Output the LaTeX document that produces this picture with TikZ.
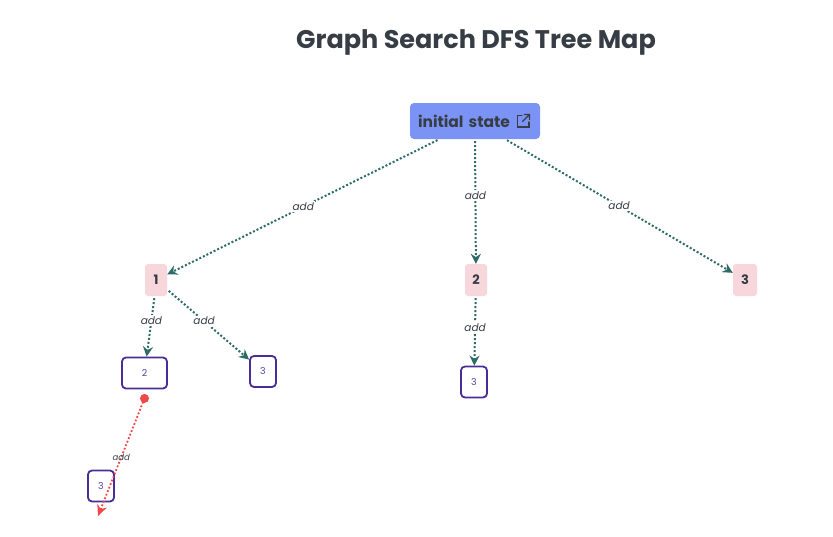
\documentclass[tikz,border=0pt]{standalone}
\usepackage{fontspec}
\setmainfont{Poppins}
\usepackage{tikz}
\usetikzlibrary{positioning, arrows.meta}
\definecolor{inkgray}{HTML}{373D45}
\definecolor{rootblue}{HTML}{7B93F5}
\definecolor{levelpink}{HTML}{F8D7DC}
\definecolor{leafpurple}{HTML}{4A2C96}
\definecolor{edgeteal}{HTML}{2E6B66}
\definecolor{deadred}{HTML}{F04848}
\tikzstyle{rootbox} = [rectangle, rounded corners=4pt, fill=rootblue, text width=114pt, align=left, minimum height=36pt, inner xsep=8pt, font=\fontsize{15.5}{18}\selectfont\bfseries, text=inkgray]
\tikzstyle{levelbox} = [rectangle, rounded corners=3pt, fill=levelpink, minimum width=22pt, minimum height=32pt, inner sep=2pt, font=\fontsize{13}{15}\selectfont\bfseries, text=inkgray]
\tikzstyle{leafbox} = [rectangle, rounded corners=4pt, draw=leafpurple, line width=1.8pt, fill=white, minimum height=31pt, inner sep=2pt, font=\fontsize{9.5}{11}\selectfont, text=leafpurple!90!white]
\tikzstyle{arrow} = [line width=2pt, dash pattern=on 2pt off 2pt, -{Stealth[length=10pt, width=10pt]}, color=edgeteal]
\tikzstyle{deadarrow} = [line width=1.8pt, dash pattern=on 1.8pt off 2pt, -{Stealth[length=11pt, width=10pt]}, color=deadred]
\tikzstyle{lbl} = [fill=white, inner sep=1.5pt, font=\fontsize{10.5}{12}\selectfont\itshape, text=inkgray]

\begin{document}
\begin{tikzpicture}[x=1pt, y=-1pt]
    \useasboundingbox (0,0) rectangle (833,536);
    \node[font=\fontsize{25.5}{30}\selectfont\bfseries, text=inkgray] (title) at (476,42) {Graph Search DFS Tree Map};
    \node[rootbox] (root) at (475,121) {initial state};
    % link icon
    \draw[inkgray, line width=1.3pt, line cap=round] (522,115.5) -- (517.5,115.5) -- (517.5,127) -- (529,127) -- (529,122);
    \draw[inkgray, line width=1.3pt, line cap=round] (522.5,121.5) -- (529.5,114.5) (524.5,114.5) -- (529.5,114.5) -- (529.5,119.5);
    \node[levelbox] (one) at (156,280) {1};
    \node[levelbox] (two) at (476,280) {2};
    \node[levelbox, minimum width=24pt] (three) at (745,280) {3};
    \node[leafbox, minimum width=45pt] (onetwo) at (144.5,373) {2};
    \node[leafbox, minimum width=26pt] (onethree) at (263,371.5) {3};
    \node[leafbox, minimum width=26pt] (twothree) at (474,382) {3};
    \node[leafbox, minimum width=26pt] (twothreethree) at (101,486) {3};
    \coordinate (deadend) at (98,516);
    \draw[arrow, shorten <=2pt] (root.207) -- node[lbl]{add} (one);
    \draw[arrow, shorten <=2pt] (root.south) -- node[lbl, pos=.45]{add} (two);
    \draw[arrow, shorten <=2pt] (root.329) -- node[lbl]{add} (three);
    \draw[arrow, shorten <=2pt] (one.265) -- node[lbl, pos=.4]{add} (onetwo);
    \draw[arrow, shorten <=2pt] (one) -- node[lbl, pos=.45]{add} (onethree);
    \draw[arrow, shorten <=2pt] (two) -- node[lbl, pos=.45]{add} (twothree);
    \fill[deadred] ([yshift=-9pt]onetwo.south) circle (4.5pt);
    \draw[deadarrow] ([yshift=-9pt]onetwo.south) -- node[lbl, fill=none, font=\fontsize{8.5}{10}\selectfont\itshape]{add} (deadend);
\end{tikzpicture}
\end{document}
